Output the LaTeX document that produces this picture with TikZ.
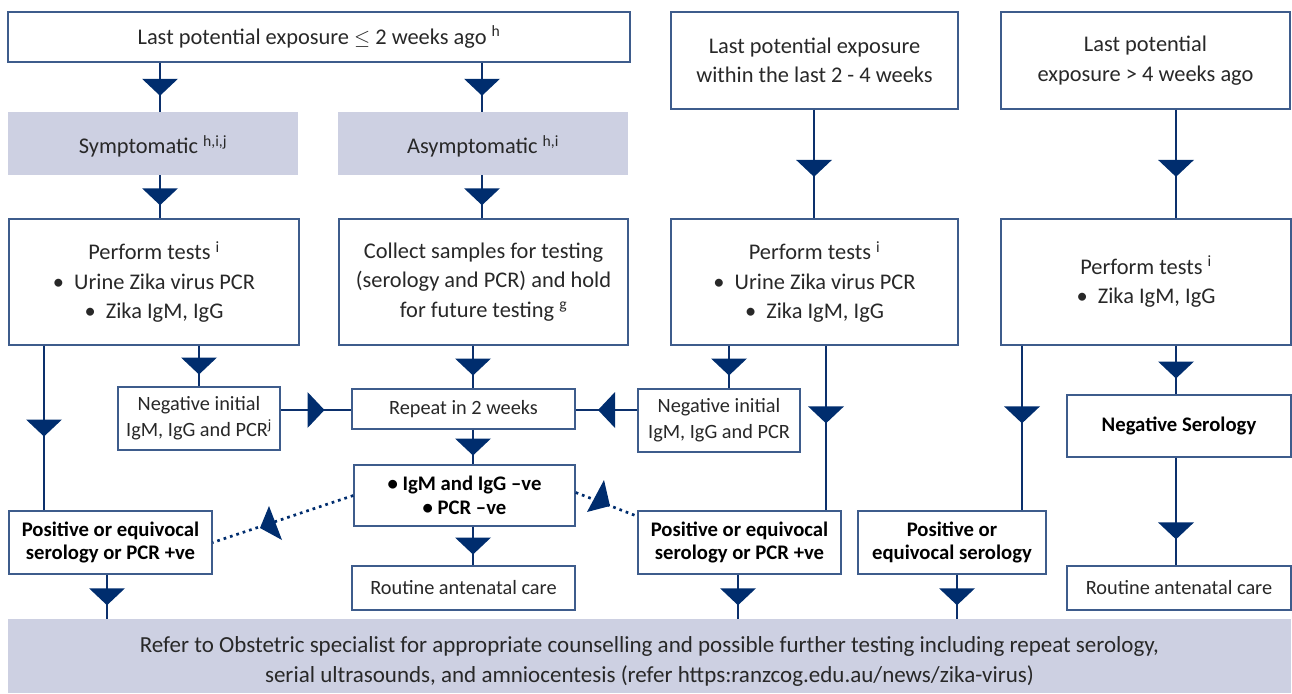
\documentclass[tikz,border=0pt]{standalone}
\usepackage{fontspec}
\setmainfont{Carlito}
\usetikzlibrary{decorations.markings}
\definecolor{boxc}{RGB}{62,92,140}
\definecolor{linec}{RGB}{12,48,108}
\definecolor{arrc}{RGB}{0,45,110}
\definecolor{grayf}{RGB}{205,208,226}
\definecolor{txt}{RGB}{40,40,40}
\tikzset{
  wh/.style 2 args={minimum width=#1pt, minimum height=#2pt},
  box/.style={draw=boxc, line width=1.4pt, fill=white, align=center, inner sep=0pt, text=txt},
  gbox/.style={fill=grayf, align=center, inner sep=0pt, text=txt},
  lowtext/.style={text height=26pt, text depth=5.5pt},
  fbig/.style={font=\fontsize{22.4}{29.5}\selectfont},
  fban/.style={font=\fontsize{23}{30}\selectfont},
  fmid/.style={font=\fontsize{20.3}{26}\selectfont},
  fbold/.style={font=\fontsize{20.7}{23.5}\selectfont\bfseries, text=black},
  flow/.style={draw=linec, line width=2.8pt, postaction={decorate},
    decoration={markings, mark=at position #1 with {\fill[arrc] (8.5,0) -- (-8.5,18) -- (-8.5,-18) -- cycle;}}},
  flow/.default=0.5,
  dotl/.style={draw=arrc, line width=2.7pt, dash pattern=on 2.7pt off 4pt},
}
\begin{document}
\begin{tikzpicture}[x=1pt,y=-1pt]
\useasboundingbox (0,0) rectangle (1292,693);
% row 1
\node[box, wh={622}{50}, fbig] (A) at (319,37) {Last potential exposure $\leq$ 2 weeks ago \textsuperscript{h}};
\node[box, wh={287}{97}, fbig] (B) at (814.5,60.5) {Last potential exposure\\within the last 2 - 4 weeks};
\node[box, wh={289}{97}, fbig] (C) at (1145.5,60.5) {Last potential\\exposure > 4 weeks ago};
% row 2
\node[gbox, lowtext, wh={290}{63}, fbig] (S) at (153,143.5) {Symptomatic \textsuperscript{h,i,j}};
\node[gbox, lowtext, wh={290}{63}, fbig] (As) at (483,143.5) {Asymptomatic \textsuperscript{h,i}};
% row 3
\node[box, wh={290}{126}, fbig] (D) at (154,282) {Perform tests \textsuperscript{i}\\\textbullet\ \ Urine Zika virus PCR\\\textbullet\ \ Zika IgM, IgG};
\node[box, wh={289}{126}, fbig] (E) at (483.5,282) {Collect samples for testing\\(serology and PCR) and hold\\for future testing \textsuperscript{g}};
\node[box, wh={287}{126}, fbig] (F) at (814.5,282) {Perform tests \textsuperscript{i}\\\textbullet\ \ Urine Zika virus PCR\\\textbullet\ \ Zika IgM, IgG};
\node[box, wh={290}{126}, fbig] (G) at (1146,282) {Perform tests \textsuperscript{i}\\\textbullet\ \ Zika IgM, IgG};
% row 4
\node[box, wh={162}{63}, fmid] (H) at (199,418.5) {Negative initial\\IgM, IgG and PCR\textsuperscript{j}};
\node[box, wh={223}{40}, fmid] (I) at (463.5,409) {Repeat in 2 weeks};
\node[box, wh={162}{63}, fmid] (J) at (719,420.5) {Negative initial\\IgM, IgG and PCR};
\node[box, wh={224}{62}, fbold] (K) at (1179,426) {Negative Serology};
% row 5
\node[box, wh={221}{61}, fbold] (O) at (464.5,495.5) {\textbullet\ IgM and IgG –ve\\\textbullet\ PCR –ve};
\node[box, wh={203}{63}, fbold] (L) at (110.5,542.5) {Positive or equivocal\\serology or PCR +ve};
\node[box, wh={203}{63}, fbold] (M) at (739.5,542.5) {Positive or equivocal\\serology or PCR +ve};
\node[box, wh={188}{63}, fbold] (N) at (952,542.5) {Positive or\\equivocal serology};
\node[box, wh={223}{44}, fmid] (P) at (463.5,588) {Routine antenatal care};
\node[box, wh={224}{44}, fmid] (Q) at (1179,588) {Routine antenatal care};
% banner
\node[gbox, wh={1283}{74}] (R) at (649.5,656) {};
\node[fban, align=center, text=txt, inner sep=0pt] (Rt) at (649.5,661) {Refer to Obstetric specialist for appropriate counselling and possible further testing including repeat serology,\\serial ultrasounds, and amniocentesis (refer https:ranzcog.edu.au/news/zika-virus)};
% connectors
\draw[flow] (160,0 |- A.south) -- (160,0 |- S.north);
\draw[flow] (482,0 |- A.south) -- (482,0 |- As.north);
\draw[flow] (160,0 |- S.south) -- (160,0 |- D.north);
\draw[flow] (482,0 |- As.south) -- (482,0 |- E.north);
\draw[flow=0.54] (814,0 |- B.south) -- (814,0 |- F.north);
\draw[flow=0.54] (1176,0 |- C.south) -- (1176,0 |- G.north);
\draw[flow] (199,0 |- D.south) -- (199,0 |- H.north);
\draw[flow] (473,0 |- E.south) -- (473,0 |- I.north);
\draw[flow] (729,0 |- F.south) -- (729,0 |- J.north);
\draw[flow] (1176,0 |- G.south) -- (1176,0 |- K.north);
\draw[flow] (44,0 |- D.south) -- (44,0 |- L.north);
\draw[flow=0.42] (826,0 |- F.south) -- (826,0 |- M.north);
\draw[flow=0.42] (1022,0 |- G.south) -- (1022,0 |- N.north);
\draw[flow] (H.east |- 0,410) -- (I.west |- 0,410);
\draw[flow] (J.west |- 0,410) -- (I.east |- 0,410);
\draw[flow] (473,0 |- I.south) -- (473,0 |- O.north);
\draw[flow] (473,0 |- O.south) -- (473,0 |- P.north);
\draw[flow=0.68] (1176,0 |- K.south) -- (1176,0 |- Q.north);
\draw[flow] (107,0 |- L.south) -- (107,0 |- R.north);
\draw[flow] (738,0 |- M.south) -- (738,0 |- R.north);
\draw[flow] (957,0 |- N.south) -- (957,0 |- R.north);
% dotted connectors
\draw[dotl] (O.west) -- (L.east);
\draw[dotl] ([yshift=3pt]O.east) -- ([yshift=-6pt]M.north west);
\fill[arrc] (269,506) -- (260,528) -- (282,540) -- cycle;
\fill[arrc] (604,480) -- (587,512) -- (610,506) -- cycle;
\end{tikzpicture}
\end{document}
